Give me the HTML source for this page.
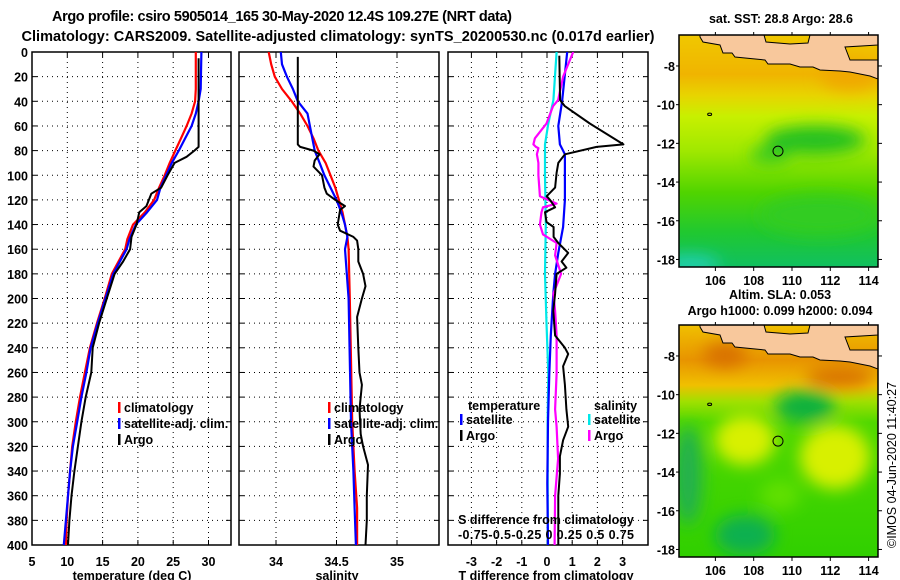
<!DOCTYPE html>
<html><head><meta charset="utf-8"><style>
html,body{margin:0;padding:0;background:#fff;}
svg{display:block;font-family:"Liberation Sans",sans-serif;font-weight:bold;}
</style></head><body>
<svg id="chart" width="900" height="580" viewBox="0 0 900 580" xmlns="http://www.w3.org/2000/svg">
<defs>
<clipPath id="cp1"><rect x="32" y="52" width="199" height="493"/></clipPath>
<clipPath id="cp2"><rect x="239" y="52" width="200" height="493"/></clipPath>
<clipPath id="cp3"><rect x="448" y="52" width="200" height="493"/></clipPath>
<clipPath id="cmt"><rect x="679" y="35" width="199" height="232"/></clipPath>
<clipPath id="cmb"><rect x="679" y="325" width="199" height="232"/></clipPath>
<filter id="blur" x="-50%" y="-50%" width="200%" height="200%"><feGaussianBlur stdDeviation="8"/></filter>
<linearGradient id="gTop" x1="0" y1="0" x2="0" y2="1">
<stop offset="0" stop-color="#f0c800"/><stop offset="0.17" stop-color="#f0b400"/><stop offset="0.26" stop-color="#e8d400"/>
<stop offset="0.35" stop-color="#c8f000"/><stop offset="0.5" stop-color="#a0e800"/><stop offset="0.68" stop-color="#50d400"/>
<stop offset="0.85" stop-color="#20c830"/><stop offset="1" stop-color="#10c060"/></linearGradient>
<linearGradient id="gBot" x1="0" y1="0" x2="0" y2="1">
<stop offset="0" stop-color="#f0c000"/><stop offset="0.15" stop-color="#e89400"/><stop offset="0.26" stop-color="#f0c000"/>
<stop offset="0.33" stop-color="#a0e000"/><stop offset="0.42" stop-color="#50d800"/><stop offset="1" stop-color="#30d000"/></linearGradient>
</defs>
<g id="layer"></g>
</svg>
<script>
// ---- data arrays ----
const tDepths = [0,30,40,50,60,70,80,90,100,110,120,130,140,152,160,180,200,220,240,260,280,300,320,340,360,380,400];
const tClim   = [28.2,28.2,28.1,27.6,26.9,26.1,25.3,24.5,23.8,23.0,22.3,21.0,19.3,18.5,18.2,16.3,15.3,14.2,13.2,12.5,11.8,11.2,10.7,10.4,10.1,9.9,9.8];
const tSat    = [29.0,28.9,28.6,28.2,27.6,26.7,25.8,24.8,24.0,23.2,22.7,21.3,19.7,18.8,18.4,16.5,15.4,14.3,13.3,12.7,12.0,11.4,10.8,10.4,10.1,9.8,9.5];
const argoTDepths = [5,77,80,85,90,100,110,115,125,130,140,150,160,170,180,200,220,240,260,280,300,320,340,360,380,400];
const argoT       = [28.6,28.6,28.0,26.9,25.2,24.2,23.3,21.9,21.2,20.2,19.8,19.1,18.9,17.9,16.7,15.6,14.5,13.6,13.4,12.6,12.0,11.5,11.0,10.6,10.3,10.1];
const sDepths = [0,10,20,30,40,50,60,70,80,90,100,110,120,130,140,150,160,200,300,340,370,400];
const sClim   = [33.94,33.96,33.99,34.05,34.13,34.20,34.26,34.31,34.35,34.41,34.45,34.49,34.52,34.55,34.57,34.59,34.60,34.61,34.63,34.65,34.67,34.67];
const sSat    = [34.04,34.05,34.09,34.14,34.18,34.26,34.28,34.30,34.32,34.36,34.40,34.45,34.50,34.54,34.57,34.59,34.57,34.60,34.62,34.64,34.65,34.66];
const argoSDepths = [4,75,77,80,83,88,93,100,110,115,120,125,128,140,145,150,153,160,170,180,190,200,215,240,260,270,290,310,320,335,360,380,400];
const argoS       = [34.18,34.18,34.20,34.31,34.36,34.32,34.31,34.38,34.40,34.42,34.49,34.57,34.53,34.51,34.53,34.64,34.67,34.68,34.68,34.72,34.74,34.71,34.67,34.68,34.69,34.71,34.69,34.70,34.72,34.76,34.75,34.75,34.74];
const dTDepths = [3,39,44,58,75,77,83,90,98,110,117,120,126,130,138,142,150,155,163,170,175,180,196,210,230,240,245,255,270,290,304,315,328,342,360,385,400];
const dTArgo   = [0.49,0.52,0.71,1.7,3.03,1.97,0.71,0.45,0.38,0.32,-0.01,0.12,0.32,-0.08,-0.02,0.26,0.26,0.45,0.84,0.58,0.77,0.38,0.32,0.25,0.32,0.71,0.84,0.64,0.71,0.77,0.84,0.64,0.51,0.51,0.45,0.45,0.45];
const dTSatDepths = [0,40,60,75,83,120,142,163,180,196,230,261,300,350,400];
const dTSat       = [0.80,0.60,0.45,0.51,0.71,0.71,0.64,0.45,0.32,0.25,0.15,0.09,0.04,0.01,0.04];
const dSSatDepths = [0,39,58,75,100,140,180,220,261,300,400];
const dSSat       = [0.095,0.063,0.013,-0.02,-0.02,-0.012,-0.02,-0.005,0.013,0.006,0.008];
const dSArgoDepths = [0,20,39,44,58,70,75,77,78,83,90,100,117,123,126,130,140,148,155,165,180,196,210,230,261,290,304,330,360,400];
const dSArgo       = [0.26,0.16,0.11,0.06,-0.005,-0.12,-0.135,-0.11,-0.085,-0.1,-0.085,-0.085,-0.07,0.095,-0.04,-0.055,-0.07,-0.04,0.095,0.08,0.14,0.063,0.08,0.095,0.095,0.08,0.095,0.11,0.08,0.075];
const depthTicks = [0,20,40,60,80,100,120,140,160,180,200,220,240,260,280,300,320,340,360,380,400];
const tTicks = [5,10,15,20,25,30];
const sTicks = [34,34.5,35];
const sTickLabels = ["34","34.5","35"];
const dTicks = [-3,-2,-1,0,1,2,3];
const latTicks = [-8,-10,-12,-14,-16,-18];
const lonTicks = [106,108,110,112,114];

// ---- axes ----
const Y = d => 52 + d*493/400;
const X1 = t => 32 + (t-5)*7.06;
const X2 = s => 276 + (s-34)*121;
const X3 = t => 547 + t*25.2;
const X3s = s => 547 + s*100.8;
const LON = l => 679 + (l-104.1)*19.15;
const LATt = l => 35 + (-6.4 - l)*19.35;
const LATb = l => 325 + (-6.4 - l)*19.35;

const NS = "http://www.w3.org/2000/svg";
const root = document.getElementById('layer');
function mk(tag, attrs, parent){
  const e = document.createElementNS(NS, tag);
  for (const k in attrs) e.setAttribute(k, attrs[k]);
  (parent||root).appendChild(e);
  return e;
}
function txt(x,y,s,size,anchor,parent){
  const t = mk('text',{x:x,y:y,'font-size':size,'text-anchor':anchor||'middle',fill:'#000'},parent);
  t.textContent = s;
  return t;
}

// titles
let e;
e = txt(282,21,"Argo profile: csiro 5905014_165 30-May-2020 12.4S 109.27E (NRT data)",14.5);


e.setAttribute('textLength','460');
e = txt(338,41,"Climatology: CARS2009. Satellite-adjusted climatology: synTS_20200530.nc (0.017d earlier)",14.5);


e.setAttribute('textLength','633');

function panel(x0,w,name,vx,vticks,vlabels){
  const g = mk('g',{});
  
  
  depthTicks.forEach(d=>{
    if(d>0&&d<400){
      const l = mk('line',{x1:x0,x2:x0+w,y1:Y(d),y2:Y(d),stroke:'#000','stroke-width':1,'stroke-dasharray':'1 4'},g);
      
      
    }
    mk('line',{x1:x0,x2:x0+5,y1:Y(d),y2:Y(d),stroke:'#000','stroke-width':1},g);
    mk('line',{x1:x0+w-5,x2:x0+w,y1:Y(d),y2:Y(d),stroke:'#000','stroke-width':1},g);
  });
  vticks.forEach((v,i)=>{
    const x = vx(v);
    const l = mk('line',{x1:x,x2:x,y1:52,y2:545,stroke:'#000','stroke-width':1,'stroke-dasharray':'1 4'},g);
    
    
    mk('line',{x1:x,x2:x,y1:52,y2:57,stroke:'#000'},g);
    mk('line',{x1:x,x2:x,y1:540,y2:545,stroke:'#000'},g);
    if(vlabels){
      const t = txt(x,561,vlabels[i],12.5,'middle',g);
      
      
    }
  });
  const r = mk('rect',{x:x0,y:52,width:w,height:493,fill:'none',stroke:'#000','stroke-width':1.5},g);
  
  
  return g;
}
panel(32,199,'temperature-panel',X1,tTicks.filter(t=>t>5),null);
tTicks.forEach(t=>{ const l=txt(X1(t),566,String(t),12.5);  });
panel(239,200,'salinity-panel',X2,sTicks,null);
sTicks.forEach((s,i)=>{ const l=txt(X2(s),566,sTickLabels[i],12.5);  });
panel(448,200,'difference-panel',X3,dTicks,null);
dTicks.forEach(t=>{ const l=txt(X3(t),566,String(t),12.5);  });
depthTicks.forEach(d=>{ const l=txt(28,Y(d)+5,String(d),12.5,'end');  });

e=txt(132,580,"temperature (deg C)",12.5);  
e=txt(337,580,"salinity",12.5);  
e=txt(546,580,"T difference from climatology",12.5);  

function series(depths, vals, xf, color, width, clip, name){
  const pts = depths.map((d,i)=>xf(vals[i]).toFixed(1)+','+Y(d).toFixed(1)).join(' ');
  const p = mk('polyline',{points:pts,fill:'none',stroke:color,'stroke-width':width,'clip-path':'url(#'+clip+')','stroke-linejoin':'round'});
  
  
}
series(tDepths,tClim,X1,'#ff0000',2.2,'cp1','temperature-climatology-line');
series(tDepths,tSat,X1,'#0000ff',2.2,'cp1','temperature-satellite-line');
series(argoTDepths,argoT,X1,'#000',2,'cp1','temperature-argo-line');
series(sDepths,sClim,X2,'#ff0000',2.2,'cp2','salinity-climatology-line');
series(sDepths,sSat,X2,'#0000ff',2.2,'cp2','salinity-satellite-line');
series(argoSDepths,argoS,X2,'#000',2,'cp2','salinity-argo-line');
series(dSSatDepths,dSSat,X3s,'#00e8e8',2.2,'cp3','s-diff-satellite-line');
series(dTSatDepths,dTSat,X3,'#0000ff',2.2,'cp3','t-diff-satellite-line');
series(dSArgoDepths,dSArgo,X3s,'#ff00ff',2.2,'cp3','s-diff-argo-line');
series(dTDepths,dTArgo,X3,'#000',2,'cp3','t-diff-argo-line');

function legend(x,y,color,label,name){
  const g = mk('g',{});
  
  
  mk('rect',{x:x,y:y-11,width:2.5,height:11,fill:color},g);
  txt(x+6,y-1,label,12.5,'start',g);
}
legend(118,413,'#ff0000','climatology','legend-climatology');
legend(118,429,'#0000ff','satellite-adj. clim.','legend-satellite');
legend(118,445,'#000','Argo','legend-argo');
legend(328,413,'#ff0000','climatology','legend2-climatology');
legend(328,429,'#0000ff','satellite-adj. clim.','legend2-satellite');
legend(328,445,'#000','Argo','legend2-argo');
e=txt(468,410,'temperature',12.5,'start');  
legend(460,425,'#0000ff','satellite','legend-t-satellite');
legend(460,441,'#000','Argo','legend-t-argo');
e=txt(594,410,'salinity',12.5,'start');  
legend(588,425,'#00e8e8','satellite','legend-s-satellite');
legend(588,441,'#ff00ff','Argo','legend-s-argo');
e=txt(546,524,'S difference from climatology',12.5);  
e=txt(546,539,'-0.75-0.5-0.25  0  0.25 0.5 0.75',12.5);   e.setAttribute('textLength','176');

// ---- maps ----
function map(top, LAT, clip, grad, blobs, name){
  const g = mk('g',{'clip-path':'url(#'+clip+')'});
  
  
  mk('rect',{x:679,y:top,width:199,height:232,fill:'url(#'+grad+')'},g);
  const bg = mk('g',{filter:'url(#blur)'},g);
  blobs.forEach(b=>mk('ellipse',{cx:b[0],cy:top+b[1],rx:b[2],ry:b[3],fill:b[4]},bg));
  const coast = [[700,2],[703,7],[720,10],[723,18],[732,18],[735,22],[765,25],[768,29],[790,29],[800,32],[813,32],[820,35],[840,36],[850,37],[870,41],[878,44]];
  const landPts = [[700,0],[764,0],[766,7],[790,9],[808,8],[810,0],[878,0],[878,10],[845,12],[850,25],[878,25]].concat(coast.slice().reverse());
  const land = mk('polygon',{points:landPts.map(p=>p[0]+','+(top+p[1])).join(' '),fill:'#f8c89c',stroke:'#000','stroke-width':1},g);
  
  
  mk('ellipse',{cx:LON(105.7),cy:LAT(-10.5),rx:2,ry:1.2,fill:'none',stroke:'#000'},g);
  const c = mk('circle',{cx:LON(109.27),cy:LAT(-12.4),r:5,fill:'none',stroke:'#000','stroke-width':1},g);
  
  
  const f = mk('rect',{x:679,y:top,width:199,height:232,fill:'none',stroke:'#000','stroke-width':1.5});
  
  
  latTicks.forEach(l=>{
    mk('line',{x1:676,x2:679,y1:LAT(l),y2:LAT(l),stroke:'#000'});
    mk('line',{x1:878,x2:882,y1:LAT(l),y2:LAT(l),stroke:'#000'});
    const t = txt(675,LAT(l)+5,String(l),12.5,'end');
    
    
  });
  lonTicks.forEach(l=>{
    mk('line',{x1:LON(l),x2:LON(l),y1:top-3,y2:top,stroke:'#000'});
    mk('line',{x1:LON(l),x2:LON(l),y1:top+232,y2:top+236,stroke:'#000'});
    const t = txt(LON(l),top+250,String(l),12.5);
    
    
  });
}
map(35,LATt,'cmt','gTop',[[815,105,50,14,'#20c020'],[770,120,20,8,'#30c820'],[690,230,30,10,'#20d0b0'],[820,180,60,20,'#30cc20'],[850,40,30,15,'#f0a800']],'sst-map');
map(325,LATb,'cmb','gBot',[[725,30,22,12,'#d87000'],[840,52,34,10,'#d87000'],[745,115,30,25,'#d8f000'],[835,132,35,32,'#d8f000'],[805,82,30,16,'#10b040'],[688,150,14,50,'#20b050'],[745,210,30,20,'#10b050'],[780,170,20,15,'#60e000']],'sla-map');

e=txt(781,23,'sat. SST: 28.8 Argo: 28.6',12.5);  
e=txt(780,299,'Altim. SLA: 0.053',12.5);  
e=txt(780,315,'Argo h1000: 0.099 h2000: 0.094',12.5);  
e=txt(0,0,'©IMOS 04-Jun-2020 11:40:27',12.5);
e.setAttribute('transform','translate(896,465) rotate(-90)');
e.setAttribute('font-weight','normal');


</script>
</body></html>
